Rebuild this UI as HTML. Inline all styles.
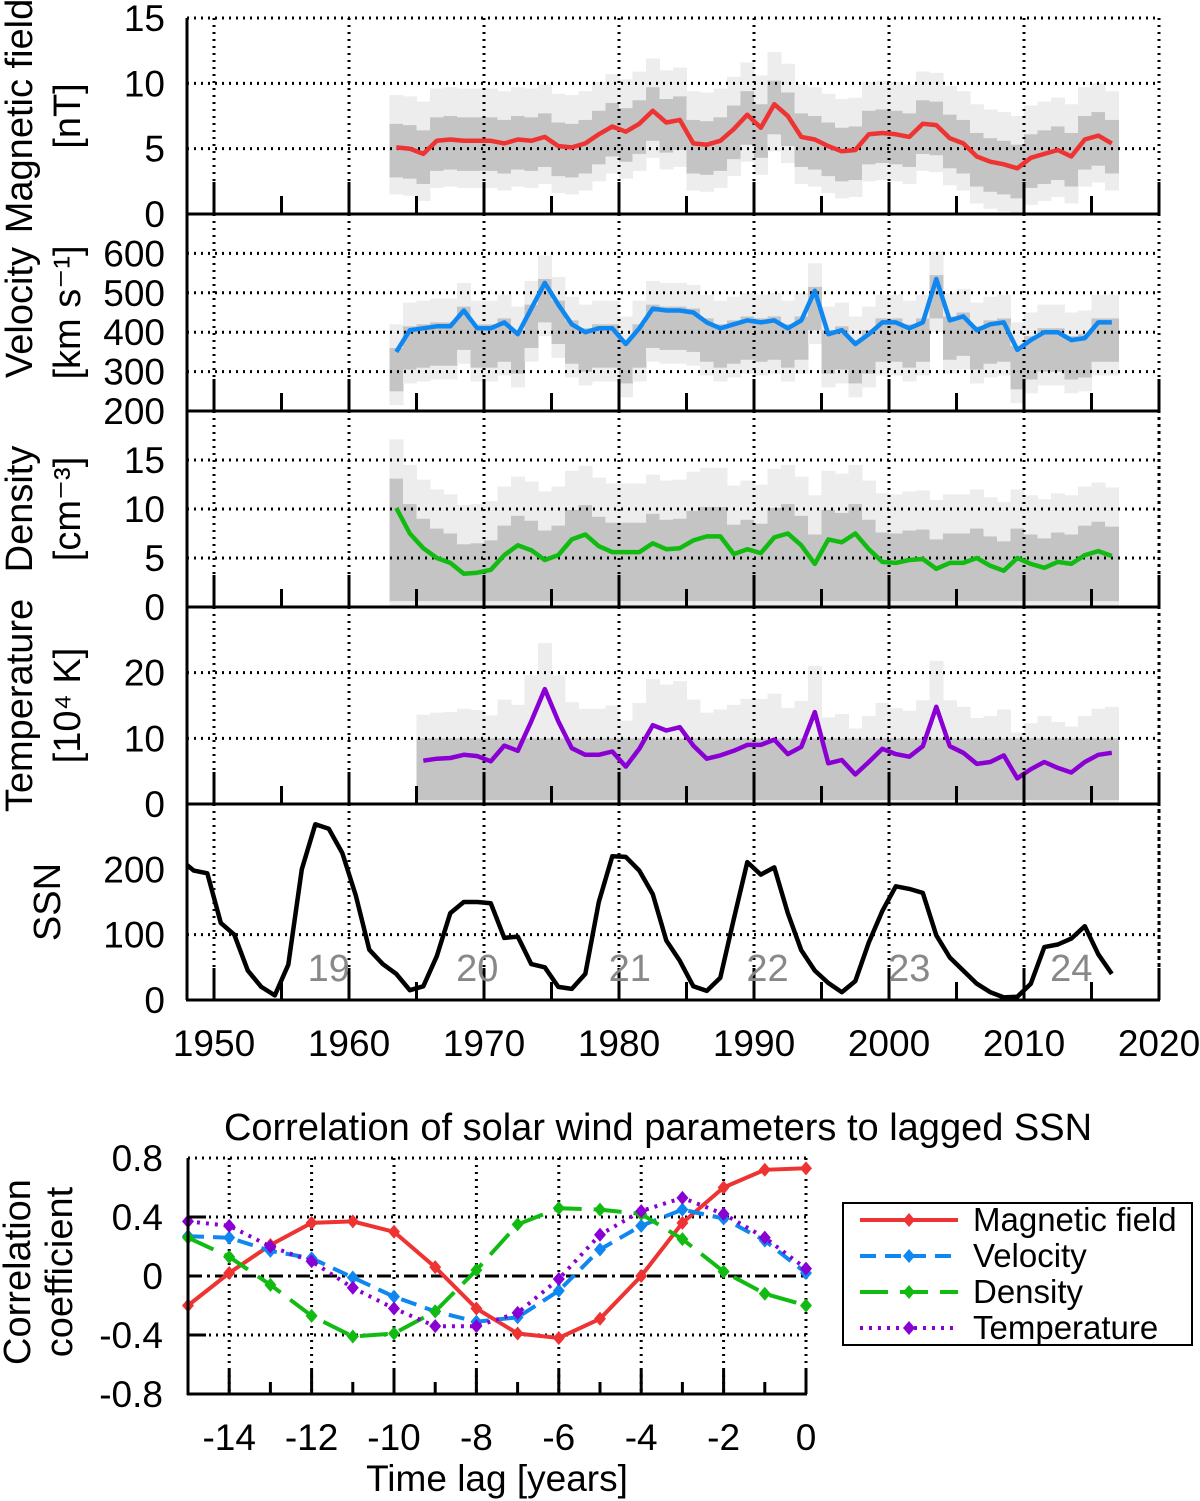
<!DOCTYPE html>
<html><head><meta charset="utf-8">
<style>
body{margin:0;background:#fff;}
svg{display:block;font-family:"Liberation Sans",Arial,sans-serif;}
</style></head>
<body>
<svg id="chart" width="1200" height="1501" viewBox="0 0 1200 1501" xmlns="http://www.w3.org/2000/svg">
<g id="bands"></g><g id="grid"></g><g id="lines"></g><g id="axes"></g><g id="txt"></g>
</svg>
<script>
// ---- Data ----
const bfYears0 = 1963;
const magField = [5.1,5.0,4.6,5.6,5.7,5.6,5.6,5.6,5.4,5.7,5.6,5.9,5.2,5.1,5.4,6.1,6.7,6.3,6.9,7.9,7.0,7.2,5.4,5.3,5.6,6.5,7.6,6.6,8.4,7.5,5.9,5.7,5.2,4.8,4.9,6.1,6.2,6.1,5.9,6.9,6.8,5.8,5.4,4.4,4.0,3.8,3.5,4.3,4.6,4.9,4.4,5.7,6.0,5.4];
const velocity = [350,405,410,415,415,455,410,410,425,395,460,525,470,420,400,410,410,370,410,460,455,455,450,425,410,420,430,425,430,410,430,505,395,405,370,395,425,425,410,425,535,430,440,405,420,425,355,380,400,400,380,385,425,425];
const density = [10.1,7.5,6.0,5.0,4.5,3.4,3.5,3.8,5.3,6.3,5.8,4.8,5.3,6.9,7.4,6.2,5.6,5.6,5.6,6.5,5.9,6.0,6.8,7.2,7.2,5.4,5.9,5.5,7.1,7.5,6.3,4.4,6.9,6.6,7.5,5.9,4.6,4.5,4.8,4.9,3.9,4.5,4.5,5.0,4.2,3.7,5.0,4.4,4.0,4.6,4.4,5.3,5.7,5.2];
const tempYears0 = 1965;
const temperature = [6.6,6.9,7.0,7.5,7.3,6.5,8.9,8.1,12.6,17.5,12.6,8.5,7.5,7.5,8.0,5.7,8.4,12.0,11.2,11.7,8.9,6.9,7.4,8.1,9.0,9.0,9.8,7.6,8.7,14.0,6.2,6.7,4.5,6.4,8.4,7.6,7.2,8.8,14.8,8.8,7.8,6.1,6.4,7.4,3.9,5.3,6.4,5.5,4.8,6.4,7.5,7.8];
const ssnYears0 = 1947;
const ssn = [215,198,194,118,100,45,20,7,54,200,269,262,225,160,77,55,40,15,21,67,133,150,150,148,95,97,55,50,20,17,40,150,220,219,198,162,91,60,21,14,34,124,211,192,203,133,76,45,26,12,29,88,136,174,170,164,99,65,45,25,12,4,5,25,81,85,94,113,70,40];
const cycleLabels = ["19","20","21","22","23","24"];
const cycleYears = [1958.5,1969.5,1980.8,1991,2001.5,2013.5];
const decadeTicks = [1950,1960,1970,1980,1990,2000,2010,2020];
const lags = [-15,-14,-13,-12,-11,-10,-9,-8,-7,-6,-5,-4,-3,-2,-1,0];
const corrMag = [-0.2,0.02,0.21,0.36,0.37,0.3,0.06,-0.22,-0.39,-0.42,-0.29,0.0,0.36,0.6,0.72,0.73];
const corrVel = [0.27,0.26,0.17,0.12,-0.01,-0.14,-0.24,-0.31,-0.28,-0.1,0.18,0.34,0.45,0.39,0.24,0.02];
const corrDen = [0.26,0.13,-0.06,-0.27,-0.41,-0.39,-0.24,0.04,0.35,0.46,0.45,0.42,0.25,0.03,-0.12,-0.2];
const corrTemp = [0.37,0.34,0.2,0.1,-0.08,-0.22,-0.34,-0.34,-0.25,-0.02,0.28,0.44,0.53,0.42,0.26,0.05];
const lagTicks = [-14,-12,-10,-8,-6,-4,-2,0];
const corrTicks = [0.8,0.4,0,-0.4,-0.8];

const NS="http://www.w3.org/2000/svg";
function mk(parent,tag,attrs,text){const e=document.createElementNS(NS,tag);for(const k in attrs)e.setAttribute(k,attrs[k]);if(text!==undefined)e.textContent=text;document.getElementById(parent).appendChild(e);return e;}

const FS=37;
const X0=187,X1=1159;
const xYear=y=>214+(y-1950)*(1159-214)/70;
const panels=[
 {name:'magnetic-field',top:18,bot:214,min:0,max:15,ticks:[0,5,10,15],grid:[5,10,15],title:['Magnetic field','[nT]'],data:magField,y0:bfYears0,color:'#ee3333'},
 {name:'velocity',top:214,bot:411,min:200,max:700,ticks:[200,300,400,500,600],grid:[300,400,500,600],title:['Velocity','[km s⁻¹]'],data:velocity,y0:bfYears0,color:'#0f87f0'},
 {name:'density',top:411,bot:607,min:0,max:20,ticks:[0,5,10,15],grid:[5,10,15],title:['Density','[cm⁻³]'],data:density,y0:bfYears0,color:'#11bb11'},
 {name:'temperature',top:607,bot:804,min:0,max:30,ticks:[0,10,20],grid:[10,20],title:['Temperature','[10⁴ K]'],data:temperature,y0:tempYears0,color:'#8a00d4'},
 {name:'ssn',top:804,bot:1000,min:0,max:300,ticks:[0,100,200],grid:[100],title:['SSN'],data:ssn,y0:ssnYears0,color:'#000'}
];
function yScale(p){return v=>p.bot-(v-p.min)/(p.max-p.min)*(p.bot-p.top);}
const bandSpec=[
 v=>[[v-3.6,v+4.0],[v-2.3,v+1.8]],
 v=>[[v-135,v+70],[v-100,v+10]],
 v=>[[0,v+7],[0.6,v+3]],
 v=>[[0,v+7],[0.6,10]]
];
const dot='2,5';
panels.forEach((p,pi)=>{
  const ys=yScale(p);
  if(pi<4){
    p.data.forEach((v,i)=>{
      const yr=p.y0+i, bs=bandSpec[pi](v);
      const xa=xYear(yr), xb=xYear(yr+1);
      const cols=['#ededed','#c4c4c4'];
      bs.forEach((b,k)=>{
        const lo=Math.max(b[0],p.min),hi=Math.min(b[1],p.max);
        const r=mk('bands','rect',{x:xa,y:ys(hi),width:xb-xa+0.5,height:Math.max(0,ys(lo)-ys(hi)),fill:cols[k]});
        
        
      });
    });
  }
  p.grid.forEach(g=>{mk('grid','line',{x1:X0,x2:X1,y1:ys(g),y2:ys(g),stroke:'#000','stroke-width':3,'stroke-dasharray':dot,});});
  decadeTicks.forEach(d=>{mk('grid','line',{x1:xYear(d),x2:xYear(d),y1:p.top,y2:p.bot,stroke:'#000','stroke-width':3,'stroke-dasharray':dot,});});
  const pts=p.data.map((v,i)=>xYear(p.y0+i+0.5).toFixed(1)+','+ys(v).toFixed(1)).join(' ');
  const cp=mk('lines','clipPath',{id:'cp'+pi});
  const cr=document.createElementNS(NS,'rect');cr.setAttribute('x',X0);cr.setAttribute('y',p.top);cr.setAttribute('width',X1-X0);cr.setAttribute('height',p.bot-p.top);cp.appendChild(cr);
  mk('lines','polyline',{points:pts,fill:'none',stroke:p.color,'stroke-width':4.5,'stroke-linejoin':'round','clip-path':'url(#cp'+pi+')',});
  mk('axes','line',{x1:X0-1,x2:X1+1,y1:p.bot,y2:p.bot,stroke:'#000','stroke-width':3,});
  mk('axes','line',{x1:X0,x2:X0,y1:p.top,y2:p.bot,stroke:'#000','stroke-width':3,});
  for(let yr=1950;yr<=2020;yr+=5){
    const len=(yr%10===0)?32:18;
    mk('axes','line',{x1:xYear(yr),x2:xYear(yr),y1:p.bot,y2:p.bot-len,stroke:'#000','stroke-width':3,});
  }
  p.ticks.forEach(t=>{
    mk('txt','text',{x:165,y:ys(t)+13,'text-anchor':'end','font-size':FS,},String(t));
  });
  const cy=(p.top+p.bot)/2;
  if(p.title.length===2){
    mk('txt','text',{x:0,y:0,transform:`translate(32,${cy}) rotate(-90)`,'text-anchor':'middle','font-size':38,},p.title[0]);
    mk('txt','text',{x:0,y:0,transform:`translate(80,${cy}) rotate(-90)`,'text-anchor':'middle','font-size':38,},p.title[1]);
  } else {
    mk('txt','text',{x:0,y:0,transform:`translate(60,${cy}) rotate(-90)`,'text-anchor':'middle','font-size':38,},p.title[0]);
  }
});
mk('grid','line',{x1:X1,x2:X1,y1:18,y2:1000,stroke:'#000','stroke-width':3,'stroke-dasharray':dot,});
mk('grid','line',{x1:X0,x2:X1,y1:18,y2:18,stroke:'#000','stroke-width':3,'stroke-dasharray':dot,});
cycleLabels.forEach((c,i)=>{mk('txt','text',{x:xYear(cycleYears[i]),y:981,'text-anchor':'middle','font-size':38,fill:'#888',},c);});
decadeTicks.forEach(d=>{mk('txt','text',{x:xYear(d),y:1056,'text-anchor':'middle','font-size':FS,},String(d));});

// ---- Correlation chart ----
const CX0=188,CX1=806,CT=1158,CB=1394;
const xLag=l=>CX1+l*(CX1-CX0)/15;
const yC=v=>1276-v*(1276-CT)/0.8;
[0.8,0.4,-0.4].forEach(v=>mk('grid','line',{x1:CX0,x2:CX1,y1:yC(v),y2:yC(v),stroke:'#000','stroke-width':3,'stroke-dasharray':dot,}));
mk('grid','line',{x1:CX0,x2:CX1,y1:yC(0),y2:yC(0),stroke:'#000','stroke-width':3,'stroke-dasharray':'14,5,3,5',});
lagTicks.forEach(l=>mk('grid','line',{x1:xLag(l),x2:xLag(l),y1:CT,y2:CB,stroke:'#000','stroke-width':3,'stroke-dasharray':dot,}));
mk('axes','line',{x1:CX0,x2:CX0,y1:CT,y2:CB+1,stroke:'#000','stroke-width':3,});
mk('axes','line',{x1:CX0-1,x2:CX1+1,y1:CB,y2:CB,stroke:'#000','stroke-width':3,});
lags.forEach(l=>mk('axes','line',{x1:xLag(l),x2:xLag(l),y1:CB,y2:CB-(l%2===0?24:12),stroke:'#000','stroke-width':3,}));
[0.4,-0.4].forEach(v=>mk('axes','line',{x1:CX0,x2:CX0+18,y1:yC(v),y2:yC(v),stroke:'#000','stroke-width':3,}));
lagTicks.forEach(l=>mk('txt','text',{x:xLag(l),y:1450,'text-anchor':'middle','font-size':FS,},String(l)));
corrTicks.forEach(v=>mk('txt','text',{x:163,y:yC(v)+13,'text-anchor':'end','font-size':FS,},String(v)));
mk('txt','text',{x:497,y:1491,'text-anchor':'middle','font-size':FS,},'Time lag [years]');
mk('txt','text',{x:658,y:1140,'text-anchor':'middle','font-size':38,},'Correlation of solar wind parameters to lagged SSN');
mk('txt','text',{x:0,y:0,transform:'translate(30,1272) rotate(-90)','text-anchor':'middle','font-size':38,},'Correlation');
mk('txt','text',{x:0,y:0,transform:'translate(72,1272) rotate(-90)','text-anchor':'middle','font-size':38,},'coefficient');
const series=[
 {n:'magnetic-field',label:'Magnetic field',d:corrMag,c:'#ee3333',dash:'none'},
 {n:'velocity',label:'Velocity',d:corrVel,c:'#0f87f0',dash:'16,9'},
 {n:'density',label:'Density',d:corrDen,c:'#11bb11',dash:'28,12'},
 {n:'temperature',label:'Temperature',d:corrTemp,c:'#8a00d4',dash:'3,6'}
];
const dia=(x,y)=>`${x},${y-7} ${x+6},${y} ${x},${y+7} ${x-6},${y}`;
series.forEach((s,si)=>{
  const pts=s.d.map((v,i)=>xLag(lags[i]).toFixed(1)+','+yC(v).toFixed(1)).join(' ');
  mk('lines','polyline',{points:pts,fill:'none',stroke:s.c,'stroke-width':4,'stroke-dasharray':s.dash,});
  s.d.forEach((v,i)=>{mk('lines','polygon',{points:dia(xLag(lags[i]),yC(v)),fill:s.c,});});
  const ly=1220+si*36;
  mk('txt','line',{x1:860,x2:958,y1:ly,y2:ly,stroke:s.c,'stroke-width':4,'stroke-dasharray':s.dash,});
  mk('txt','polygon',{points:dia(909,ly),fill:s.c,});
  mk('txt','text',{x:973,y:ly+11,'font-size':33,},s.label);
});
mk('txt','rect',{x:843,y:1203,width:349,height:142,fill:'none',stroke:'#000','stroke-width':2,});
</script>
</body></html>
